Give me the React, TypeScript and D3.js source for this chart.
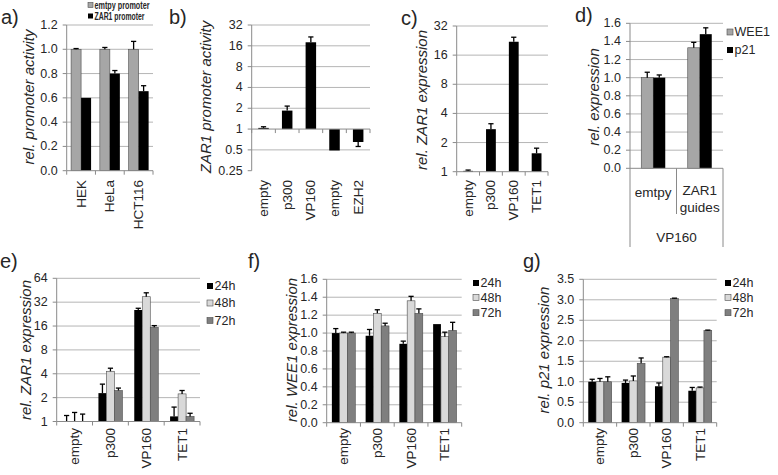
import React from 'react';
import * as d3 from 'd3';

// ---------- DATA ----------
const aCategories = ['HEK', 'HeLa', 'HCT116'];
const aSeriesNames = ['emtpy promoter', 'ZAR1 promoter'];
const aEmptyValues = [1.0, 1.0, 1.0];
const aEmptyErrors = [0.006, 0.015, 0.065];
const aZar1Values = [0.6, 0.8, 0.655];
const aZar1Errors = [0.0, 0.025, 0.045];
const aTicks = [0, 0.2, 0.4, 0.6, 0.8, 1.0, 1.2];

const bCategories = ['empty', 'p300', 'VP160', 'empty', 'EZH2'];
const bValues = [1.04, 1.85, 18, 0.49, 0.65];
const bErrors = [0.04, 0.3, 3.5, 0.0, 0.09];
const bTicks = [0.25, 0.5, 1, 2, 4, 8, 16, 32];

const cCategories = ['empty', 'p300', 'VP160', 'TET1'];
const cValues = [1.02, 2.75, 22, 1.55];
const cErrors = [0.02, 0.38, 2.5, 0.2];
const cTicks = [1, 2, 4, 8, 16, 32];

const dCategories = ['emtpy', 'ZAR1|guides'];
const dGroupLabel = 'VP160';
const dSeriesNames = ['WEE1', 'p21'];
const dWee1Values = [1.0, 1.33];
const dWee1Errors = [0.06, 0.06];
const dP21Values = [1.0, 1.48];
const dP21Errors = [0.03, 0.07];
const dTicks = [0, 0.2, 0.4, 0.6, 0.8, 1.0, 1.2, 1.4, 1.6];

const timeSeriesNames = ['24h', '48h', '72h'];
const timeCategories = ['empty', 'p300', 'VP160', 'TET1'];

const e24Values = [1.0, 2.28, 25.5, 1.16];
const e24Errors = [0.19, 0.68, 1.3, 0.36];
const e48Values = [1.0, 4.3, 37.5, 2.23];
const e48Errors = [0.3, 0.4, 4.5, 0.23];
const e72Values = [1.0, 2.46, 15.4, 1.16];
const e72Errors = [0.24, 0.18, 0.8, 0.11];
const eTicks = [1, 2, 4, 8, 16, 32, 64];

const f24Values = [1.0, 0.97, 0.88, 1.1];
const f24Errors = [0.05, 0.07, 0.03, 0.0];
const f48Values = [1.0, 1.22, 1.36, 0.96];
const f48Errors = [0.01, 0.04, 0.05, 0.05];
const f72Values = [1.0, 1.08, 1.22, 1.03];
const f72Errors = [0.01, 0.03, 0.05, 0.09];
const fTicks = [0, 0.2, 0.4, 0.6, 0.8, 1.0, 1.2, 1.4, 1.6];

const g24Values = [1.0, 0.97, 0.89, 0.78];
const g24Errors = [0.06, 0.07, 0.08, 0.08];
const g48Values = [1.0, 1.02, 1.6, 0.85];
const g48Errors = [0.08, 0.12, 0.01, 0.02];
const g72Values = [1.0, 1.45, 3.03, 2.25];
const g72Errors = [0.12, 0.13, 0.01, 0.01];
const gTicks = [0, 0.5, 1.0, 1.5, 2.0, 2.5, 3.0, 3.5];

// ---------- STYLE ----------
const FONT = "'Liberation Sans', Arial, sans-serif";
const TXT = '#262626';
const GRID = '#b5b5b5';
const AXIS = '#8a8a8a';
const GRAY = '#a6a6a6';
const BLACK = '#000000';
const LIGHT = '#d9d9d9';
const MID = '#7f7f7f';

type Series = { name: string; values: number[]; errors: number[]; color: string };
type Spec = {
  label: string; labelX: number; labelY: number;
  x0: number; x1: number; yTop: number; yBot: number;
  log: boolean; domain: [number, number]; ticks: number[]; fmt: (v: number) => string;
  baseline: number; bottomGrid: boolean;
  categories: string[]; catMode: 'rot' | 'table'; catY: number;
  series: Series[]; barW: number;
  title: string; titleX: number; titleY: number;
  legend?: { x: number; ys: number[]; size: number; bold?: boolean; sq: number; textLen?: number[] };
};

function Panel({ s }: { s: Spec }) {
  const y = s.log
    ? d3.scaleLog().base(2).domain(s.domain).range([s.yBot, s.yTop])
    : d3.scaleLinear().domain(s.domain).range([s.yBot, s.yTop]);
  const x = d3.scaleBand<number>().domain(s.categories.map((_, i) => i)).range([s.x0, s.x1]).padding(0);
  const cw = x.bandwidth();
  const yBase = y(s.baseline);
  const groupW = s.barW * s.series.length;
  const els: React.ReactNode[] = [];

  // gridlines
  s.ticks.forEach((t, i) => {
    const yy = y(t);
    const isBottom = Math.abs(yy - s.yBot) < 0.5;
    if (Math.abs(t - s.baseline) < 1e-9) return;
    if (isBottom && !s.bottomGrid) return;
    els.push(<line key={'g' + i} x1={s.x0} x2={s.x1} y1={yy} y2={yy} stroke={GRID} strokeWidth={1} />);
  });
  // y axis
  els.push(<line key="ya" x1={s.x0} x2={s.x0} y1={s.yTop} y2={s.yBot} stroke={AXIS} strokeWidth={1} />);
  s.ticks.forEach((t, i) => {
    const yy = y(t);
    els.push(<line key={'yt' + i} x1={s.x0 - 4} x2={s.x0} y1={yy} y2={yy} stroke={AXIS} />);
    els.push(
      <text key={'yl' + i} x={s.x0 - 9} y={yy} textAnchor="end" dominantBaseline="central"
        fontSize={12.5} fill={TXT} fontFamily={FONT}>{s.fmt(t)}</text>
    );
  });
  // bars
  s.series.forEach((ser, si) => {
    ser.values.forEach((v, ci) => {
      const cx = (x(ci) as number) + cw / 2;
      const bx = cx - groupW / 2 + si * s.barW;
      const yv = y(v);
      const top = Math.min(yv, yBase);
      const h = Math.abs(yv - yBase);
      if (h > 0.2) {
        els.push(
          <rect key={`b${si}-${ci}`} x={bx} y={top} width={s.barW} height={h} fill={ser.color}
            stroke={ser.color === BLACK ? 'none' : '#4d4d4d'} strokeWidth={0.6} />
        );
      }
      const err = ser.errors[ci];
      if (err > 0) {
        const up = v >= s.baseline;
        const ye = up ? y(v + err) : y(Math.max(v - err, 1e-6));
        const ex = bx + s.barW / 2;
        els.push(<line key={`e${si}-${ci}`} x1={ex} x2={ex} y1={yv} y2={ye} stroke="#000" strokeWidth={1.3} />);
        els.push(<line key={`ec${si}-${ci}`} x1={ex - 2.6} x2={ex + 2.6} y1={ye} y2={ye} stroke="#000" strokeWidth={1.3} />);
      }
    });
  });
  // category axis
  if (s.catMode === 'rot') {
    els.push(<line key="xa" x1={s.x0} x2={s.x1} y1={yBase} y2={yBase} stroke={AXIS} />);
    for (let i = 0; i <= s.categories.length; i++) {
      const xx = s.x0 + i * cw;
      els.push(<line key={'xt' + i} x1={xx} x2={xx} y1={yBase} y2={yBase + 4} stroke={AXIS} />);
    }
    s.categories.forEach((c, i) => {
      const cx = (x(i) as number) + cw / 2;
      els.push(
        <text key={'xl' + i} x={cx} y={s.catY} transform={`rotate(-90 ${cx} ${s.catY})`} textAnchor="end"
          dominantBaseline="central" fontSize={13.5} fill={TXT} fontFamily={FONT}>{c}</text>
      );
    });
  } else {
    els.push(<line key="xa" x1={s.x0} x2={s.x1} y1={yBase} y2={yBase} stroke={AXIS} />);
    els.push(<line key="t0" x1={s.x0} x2={s.x0} y1={yBase} y2={247} stroke={AXIS} />);
    els.push(<line key="t1" x1={s.x1} x2={s.x1} y1={yBase} y2={247} stroke={AXIS} />);
    for (let i = 1; i < s.categories.length; i++) {
      const xx = s.x0 + i * cw;
      els.push(<line key={'tm' + i} x1={xx} x2={xx} y1={yBase} y2={214} stroke={AXIS} />);
    }
    s.categories.forEach((c, i) => {
      const cx = (x(i) as number) + cw / 2;
      const lines = c.split('|');
      const y0 = lines.length === 1 ? 192 : 190;
      lines.forEach((ln, li) => {
        els.push(
          <text key={`xl${i}-${li}`} x={cx} y={y0 + li * 17} textAnchor="middle" dominantBaseline="central"
            fontSize={13.5} fill={TXT} fontFamily={FONT}>{ln}</text>
        );
      });
    });
    els.push(
      <text key="grp" x={(s.x0 + s.x1) / 2} y={237} textAnchor="middle" dominantBaseline="central"
        fontSize={13.5} fill={TXT} fontFamily={FONT}>{dGroupLabel}</text>
    );
  }
  // title
  els.push(
    <text key="ti" x={s.titleX} y={s.titleY} transform={`rotate(-90 ${s.titleX} ${s.titleY})`} textAnchor="middle"
      dominantBaseline="central" fontSize={15} fontStyle="italic" fill={TXT} fontFamily={FONT}>{s.title}</text>
  );
  // panel label
  els.push(
    <text key="lab" x={s.labelX} y={s.labelY} fontSize={20} fill={TXT} fontFamily={FONT}>{s.label}</text>
  );
  // legend
  if (s.legend) {
    const L = s.legend;
    s.series.forEach((ser, si) => {
      els.push(
        <rect key={'lr' + si} x={L.x} y={L.ys[si] - L.sq / 2} width={L.sq} height={L.sq} fill={ser.color}
          stroke={ser.color === BLACK ? 'none' : '#4d4d4d'} strokeWidth={0.6} />
      );
      const tl = L.textLen ? L.textLen[si] : undefined;
      els.push(
        <text key={'lt' + si} x={L.x + L.sq + 1.5} y={L.ys[si]} dominantBaseline="central" fontSize={L.size}
          fontWeight={L.bold ? 'bold' : 'normal'} fill={TXT} fontFamily={FONT}
          textLength={tl} lengthAdjust={tl ? 'spacingAndGlyphs' : undefined}>{ser.name}</text>
      );
    });
  }
  return <g>{els}</g>;
}

const fmt1 = (v: number) => d3.format('.1f')(v);
const fmtG = (v: number) => String(v);

const specs: Spec[] = [
  {
    label: 'a)', labelX: 1, labelY: 24, x0: 66.7, x1: 153, yTop: 25, yBot: 170.7,
    log: false, domain: [0, 1.2], ticks: aTicks, fmt: fmt1, baseline: 0, bottomGrid: false,
    categories: aCategories, catMode: 'rot', catY: 180,
    series: [
      { name: aSeriesNames[0], values: aEmptyValues, errors: aEmptyErrors, color: GRAY },
      { name: aSeriesNames[1], values: aZar1Values, errors: aZar1Errors, color: BLACK },
    ],
    barW: 10, title: 'rel. promoter activity', titleX: 28, titleY: 97,
    legend: { x: 88, ys: [5, 16], size: 10, bold: true, sq: 5, textLen: [55, 50] },
  },
  {
    label: 'b)', labelX: 169, labelY: 24, x0: 251.7, x1: 370, yTop: 25, yBot: 170.7,
    log: true, domain: [0.25, 32], ticks: bTicks, fmt: fmtG, baseline: 1, bottomGrid: false,
    categories: bCategories, catMode: 'rot', catY: 180,
    series: [{ name: 'ZAR1', values: bValues, errors: bErrors, color: BLACK }],
    barW: 10.5, title: 'ZAR1 promoter activity', titleX: 205, titleY: 97,
  },
  {
    label: 'c)', labelX: 401, labelY: 25, x0: 456.7, x1: 548, yTop: 26, yBot: 171.7,
    log: true, domain: [1, 32], ticks: cTicks, fmt: fmtG, baseline: 1, bottomGrid: false,
    categories: cCategories, catMode: 'rot', catY: 180,
    series: [{ name: 'ZAR1', values: cValues, errors: cErrors, color: BLACK }],
    barW: 9.8, title: 'rel. ZAR1 expression', titleX: 421.7, titleY: 100,
  },
  {
    label: 'd)', labelX: 575, labelY: 22, x0: 630, x1: 723, yTop: 23.3, yBot: 168.3,
    log: false, domain: [0, 1.6], ticks: dTicks, fmt: fmt1, baseline: 0, bottomGrid: false,
    categories: dCategories, catMode: 'table', catY: 192,
    series: [
      { name: dSeriesNames[0], values: dWee1Values, errors: dWee1Errors, color: GRAY },
      { name: dSeriesNames[1], values: dP21Values, errors: dP21Errors, color: BLACK },
    ],
    barW: 12, title: 'rel. expression', titleX: 593, titleY: 97,
    legend: { x: 727, ys: [32, 50], size: 12.5, sq: 6 },
  },
  {
    label: 'e)', labelX: 0, labelY: 268, x0: 56.7, x1: 200, yTop: 278.3, yBot: 421.5,
    log: true, domain: [1, 64], ticks: eTicks, fmt: fmtG, baseline: 1, bottomGrid: false,
    categories: timeCategories, catMode: 'rot', catY: 428,
    series: [
      { name: timeSeriesNames[0], values: e24Values, errors: e24Errors, color: BLACK },
      { name: timeSeriesNames[1], values: e48Values, errors: e48Errors, color: LIGHT },
      { name: timeSeriesNames[2], values: e72Values, errors: e72Errors, color: MID },
    ],
    barW: 8, title: 'rel. ZAR1  expression', titleX: 25, titleY: 350,
    legend: { x: 207, ys: [286, 303, 320.5], size: 12.5, sq: 6 },
  },
  {
    label: 'f)', labelX: 248, labelY: 268, x0: 326.7, x1: 461.7, yTop: 279.3, yBot: 422.7,
    log: false, domain: [0, 1.6], ticks: fTicks, fmt: fmt1, baseline: 0, bottomGrid: false,
    categories: timeCategories, catMode: 'rot', catY: 428,
    series: [
      { name: timeSeriesNames[0], values: f24Values, errors: f24Errors, color: BLACK },
      { name: timeSeriesNames[1], values: f48Values, errors: f48Errors, color: LIGHT },
      { name: timeSeriesNames[2], values: f72Values, errors: f72Errors, color: MID },
    ],
    barW: 7.8, title: 'rel. WEE1 expression', titleX: 291.7, titleY: 350,
    legend: { x: 473, ys: [283, 297.5, 312.7], size: 12.5, sq: 6 },
  },
  {
    label: 'g)', labelX: 523, labelY: 268, x0: 583.3, x1: 716.7, yTop: 279.3, yBot: 422.7,
    log: false, domain: [0, 3.5], ticks: gTicks, fmt: fmt1, baseline: 0, bottomGrid: false,
    categories: timeCategories, catMode: 'rot', catY: 428,
    series: [
      { name: timeSeriesNames[0], values: g24Values, errors: g24Errors, color: BLACK },
      { name: timeSeriesNames[1], values: g48Values, errors: g48Errors, color: LIGHT },
      { name: timeSeriesNames[2], values: g72Values, errors: g72Errors, color: MID },
    ],
    barW: 7.8, title: 'rel. p21 expression', titleX: 543, titleY: 350,
    legend: { x: 725, ys: [283, 297.5, 312.7], size: 12.5, sq: 6 },
  },
];

export default function App() {
  return (
    <svg width={778} height={475} style={{ position: 'absolute', left: 0, top: 0, background: '#fff' }}
      xmlns="http://www.w3.org/2000/svg">
      <rect x={0} y={0} width={778} height={475} fill="#fff" />
      {specs.map((s, i) => <Panel key={i} s={s} />)}
    </svg>
  );
}
